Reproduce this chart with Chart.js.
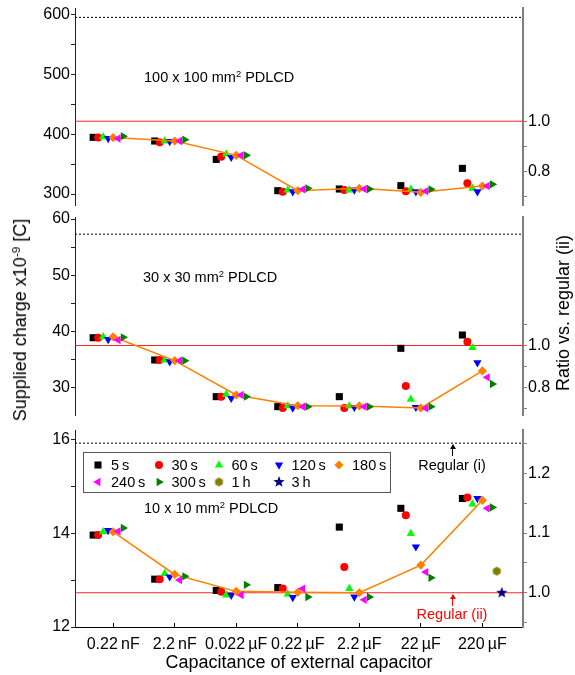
<!DOCTYPE html>
<html>
<head>
<meta charset="utf-8">
<script src="https://cdn.jsdelivr.net/npm/chart.js@4.4.1/dist/chart.umd.min.js"></script>
<style>
  html, body { margin: 0; padding: 0; background: #fff; }
  body { position: relative; width: 575px; height: 675px; overflow: hidden;
         font-family: "Liberation Sans", Arial, sans-serif; color: #000; }
  canvas.panel { position: absolute; left: 0; }
  .t { position: absolute; white-space: nowrap; line-height: 1; transform: translate(-50%, -50%); }
  .tl { position: absolute; white-space: nowrap; line-height: 1; transform: translate(0, -50%); }
  .rot { transform: translate(-50%, -50%) rotate(-90deg); }
  .sup { font-size: 0.65em; position: relative; top: -0.5em; }
  #legend { position: absolute; left: 83px; top: 452px; width: 306px; height: 39px; border: 1.5px solid #555; }
  .arrow { position: absolute; width: 1px; }
  .arrow::before { content: ""; position: absolute; left: -2.5px; top: -1px;
                   border-left: 3px solid transparent; border-right: 3px solid transparent;
                   border-bottom: 5px solid currentColor; }
</style>
</head>
<body>
<canvas class="panel" id="p0" width="575" height="211" style="top:0px"></canvas>
<canvas class="panel" id="p1" width="575" height="212" style="top:211px"></canvas>
<canvas class="panel" id="p2" width="575" height="252" style="top:423px"></canvas>

<div class="tl" style="left:144px;top:77px;font-size:14.5px">100 x 100 mm<span class="sup">2</span> PDLCD</div>
<div class="tl" style="left:143px;top:277px;font-size:14.5px">30 x 30 mm<span class="sup">2</span> PDLCD</div>
<div class="tl" style="left:144px;top:508px;font-size:14.5px">10 x 10 mm<span class="sup">2</span> PDLCD</div>

<div class="arrow" style="left:452px;top:445px;height:11px;background:#000;color:#000"></div>
<div class="t" style="left:452px;top:465px;font-size:14.5px">Regular (i)</div>
<div class="arrow" style="left:452px;top:595px;height:11px;background:#f00;color:#f00"></div>
<div class="t" style="left:452px;top:614px;font-size:14.5px;color:#f00">Regular (ii)</div>

<div class="t rot" style="left:20px;top:320px;font-size:18px">Supplied charge x10<span class="sup">-9</span> [C]</div>
<div class="t rot" style="left:563px;top:313px;font-size:18px">Ratio vs. regular (ii)</div>
<div class="t" style="left:299px;top:662px;font-size:18px">Capacitance of external capacitor</div>

<div id="legend"></div>

<script>
const categories = ['0.22\u2009nF', '2.2\u2009nF', '0.022\u2009µF', '0.22\u2009µF', '2.2\u2009µF', '22\u2009µF', '220\u2009µF'];
const seriesNames = ['5\u2009s', '30\u2009s', '60\u2009s', '120\u2009s', '180\u2009s', '240\u2009s', '300\u2009s', '1\u2009h', '3\u2009h'];
const seriesColors = ['#000000', '#ff0000', '#00ff00', '#0000ff', '#ff8000', '#ff00ff', '#008000', '#808000', '#000080'];

// supplied charge (x1e-9 C), one row per series in seriesNames order
const charge100 = [
  [395, 388.8, 358, 305.6, 308.4, 314, 343],
  [394.5, 386.6, 362.5, 303.9, 306.7, 304.5, 318],
  [396, 388.8, 367, 306.7, 306.7, 307.8, 309.5],
  [393, 388, 361.5, 303.9, 306.7, 303.9, 303.9],
  [394.5, 388.8, 364.8, 305.6, 309.5, 302.8, 313.4],
  [393, 388.8, 364.8, 307.8, 308.4, 304.7, 313.4],
  [397, 391, 364.8, 309.5, 308.4, 307.8, 316.2]
];
const charge30 = [
  [38.84, 34.87, 28.33, 26.55, 28.33, 36.95, 39.32],
  [38.84, 34.87, 28.33, 26.31, 26.31, 30.23, 38.13],
  [39.0, 34.87, 28.75, 26.67, 26.67, 27.86, 37.06],
  [38.55, 34.57, 28.04, 26.31, 26.43, 26.43, 34.39],
  [39.0, 34.75, 28.63, 26.73, 26.67, 26.31, 32.91],
  [38.43, 34.75, 28.63, 26.55, 26.55, 26.25, 31.78],
  [38.9, 34.75, 28.33, 26.55, 26.55, 26.55, 30.59]
];
const charge10 = [
  [13.96, 13.02, 12.78, 12.84, 14.13, 14.53, 14.74],
  [13.96, 13.02, 12.75, 12.82, 13.28, 14.38, 14.76],
  [14.03, 13.14, 12.68, 12.70, 12.82, 13.99, 14.62],
  [14.06, 13.07, 12.68, 12.63, 12.64, 13.71, 14.74],
  [14.03, 13.12, 12.76, 12.74, 12.73, 13.32, 14.70],
  [14.04, 13.00, 12.68, 12.82, 12.58, 13.17, 14.53],
  [14.11, 13.08, 12.90, 12.64, 12.64, 13.05, 14.55],
  [null, null, null, null, null, null, 13.19],
  [null, null, null, null, null, null, 12.73]
];
// reference levels per panel (100x100, 30x30, 10x10)
const regularI = [596, 57.3, 15.92];
const regularII = [422, 37.45, 12.73];

Chart.defaults.font.family = '"Liberation Sans", Arial, sans-serif';
Chart.defaults.color = '#000';

const xMin = -0.62, xMax = 6.66;
// horizontal spread of the series inside each capacitor group
const groupOffset = [-0.325, -0.244, -0.163, -0.081, 0, 0.081, 0.163, 0.234, 0.315];

function markerImage(kind, color, r) {
  const c = document.createElement('canvas');
  const s = Math.ceil(2 * r + 2);
  c.width = c.height = s;
  const g = c.getContext('2d');
  g.fillStyle = color;
  g.beginPath();
  if (kind === 'hex') {
    for (let k = 0; k < 6; k++) {
      const a = Math.PI / 3 * k - Math.PI / 2;
      g.lineTo(s / 2 + r * Math.cos(a), s / 2 + r * Math.sin(a));
    }
  } else {
    for (let k = 0; k < 10; k++) {
      const a = Math.PI / 5 * k - Math.PI / 2;
      const rr = k % 2 ? r * 0.42 : r;
      g.lineTo(s / 2 + rr * Math.cos(a), s / 2 + rr * Math.sin(a));
    }
  }
  g.closePath();
  g.fill();
  return c;
}

const pointStyles = ['rect', 'circle', 'triangle', 'triangle', 'rectRot', 'triangle', 'triangle',
  markerImage('hex', seriesColors[7], 4.5), markerImage('star', seriesColors[8], 6)];
const pointRot = [0, 0, 0, 180, 0, -90, 90, 0, 0];
const pointRad = [5, 4, 4.8, 4.8, 4.6, 4.8, 4.8, 5, 5];

const panels = [
  { id: 'p0', values: charge100, regI: regularI[0], regII: regularII[0], min: 281.6, max: 611.7,
    left: [300, 350, 400, 450, 500, 550, 600], leftStep: 100,
    ratio: [0.7, 0.8, 0.9, 1.0], ratioLabels: [0.8, 1.0], padTop: 8, padBottom: 6, xAxis: false },
  { id: 'p1', values: charge30, regI: regularI[1], regII: regularII[1], min: 25.06, max: 60.36,
    left: [30, 35, 40, 45, 50, 55, 60], leftStep: 10,
    ratio: [0.7, 0.8, 0.9, 1.0, 1.1], ratioLabels: [0.8, 1.0], padTop: 6, padBottom: 8, xAxis: false },
  { id: 'p2', values: charge10, regI: regularI[2], regII: regularII[2], min: 12, max: 16.2,
    left: [12, 13, 14, 15, 16], leftStep: 2,
    ratio: [0.95, 1.0, 1.05, 1.1, 1.15, 1.2, 1.25], ratioLabels: [1.0, 1.1, 1.2], padTop: 7, padBottom: 0, xAxis: true }
];

function refLine(y, color, dash) {
  return {
    data: [{x: xMin, y: y}, {x: xMax, y: y}],
    showLine: true, borderColor: color, borderWidth: 1, borderDash: dash,
    pointRadius: 0, order: 50
  };
}

function isMultiple(v, step) {
  return Math.abs(v / step - Math.round(v / step)) < 1e-6;
}

panels.forEach(p => {
  const datasets = p.values.map((row, s) => ({
    label: seriesNames[s],
    data: row.map((v, i) => v == null ? null : {x: i + groupOffset[s], y: v}).filter(Boolean),
    pointStyle: pointStyles[s],
    pointRotation: pointRot[s],
    pointRadius: pointRad[s],
    pointBackgroundColor: seriesColors[s],
    pointBorderColor: seriesColors[s],
    pointBorderWidth: 0,
    showLine: s === 4,
    borderColor: seriesColors[s],
    borderWidth: 1.5,
    order: 20 - s
  }));
  datasets.push(refLine(p.regI, '#000', [2, 2]));
  datasets.push(refLine(p.regII, 'rgba(255,0,0,0.85)', []));

  new Chart(document.getElementById(p.id), {
    type: 'scatter',
    data: { datasets },
    options: {
      responsive: false,
      animation: false,
      events: [],
      layout: { padding: { top: p.padTop, bottom: p.padBottom, left: 0, right: 0 } },
      plugins: { legend: { display: false }, tooltip: { enabled: false } },
      scales: {
        x: {
          type: 'linear', min: xMin, max: xMax, display: p.xAxis,
          border: { color: '#000', width: 1 },
          grid: { drawOnChartArea: false, tickLength: -4, color: '#000' },
          ticks: { autoSkip: false, maxRotation: 0, minRotation: 0, padding: 12, font: { size: 16 },
                   callback: v => categories[Math.round(v)] ?? '' },
          afterBuildTicks: s => { s.ticks = categories.map((c, i) => ({ value: i })); },
          afterFit: s => { s.height = p.xAxis ? 48 : 0; s.paddingLeft = 0; s.paddingRight = 0; }
        },
        y: {
          position: 'left', min: p.min, max: p.max,
          border: { color: '#222', width: 1 },
          grid: { drawOnChartArea: false, tickLength: 4, color: '#222' },
          ticks: { padding: 1, font: { size: 16 },
                   callback: v => isMultiple(v, p.leftStep) ? String(v) : '' },
          afterBuildTicks: s => { s.ticks = p.left.map(v => ({ value: v })); },
          afterFit: s => { s.width = 75; s.paddingTop = 0; s.paddingBottom = 0; }
        },
        y2: {
          position: 'right', min: p.min / p.regII, max: p.max / p.regII,
          border: { color: '#808080', width: 2 },
          grid: { drawOnChartArea: false, tickLength: 4, color: '#808080' },
          ticks: { padding: 1, font: { size: 16 },
                   callback: v => p.ratioLabels.some(r => Math.abs(r - v) < 1e-6) ? v.toFixed(1) : '' },
          afterBuildTicks: s => { s.ticks = p.ratio.map(v => ({ value: v })); },
          afterFit: s => { s.width = 52; s.paddingTop = 0; s.paddingBottom = 0; }
        }
      }
    }
  });
});

// legend inside the 10 x 10 panel
const legendCols = [98, 158.5, 218.5, 278.5, 339];
const legendRows = [464.5, 482];
seriesNames.forEach((name, s) => {
  const mx = legendCols[s % 5], my = legendRows[Math.floor(s / 5)];
  const c = document.createElement('canvas');
  c.width = 16; c.height = 16;
  c.style.cssText = 'position:absolute;left:' + (mx - 8) + 'px;top:' + (my - 8) + 'px';
  const g = c.getContext('2d');
  g.fillStyle = seriesColors[s];
  if (Chart.helpers && Chart.helpers.drawPoint) {
    Chart.helpers.drawPoint(g, { pointStyle: pointStyles[s], rotation: pointRot[s], radius: pointRad[s], borderWidth: 0 }, 8, 8);
  } else {
    g.fillRect(4, 4, 8, 8);
  }
  document.body.appendChild(c);
  const t = document.createElement('div');
  t.className = 'tl';
  t.style.cssText = 'left:' + (mx + 13) + 'px;top:' + my + 'px;font-size:14.5px';
  t.textContent = name;
  document.body.appendChild(t);
});
</script>
</body>
</html>
